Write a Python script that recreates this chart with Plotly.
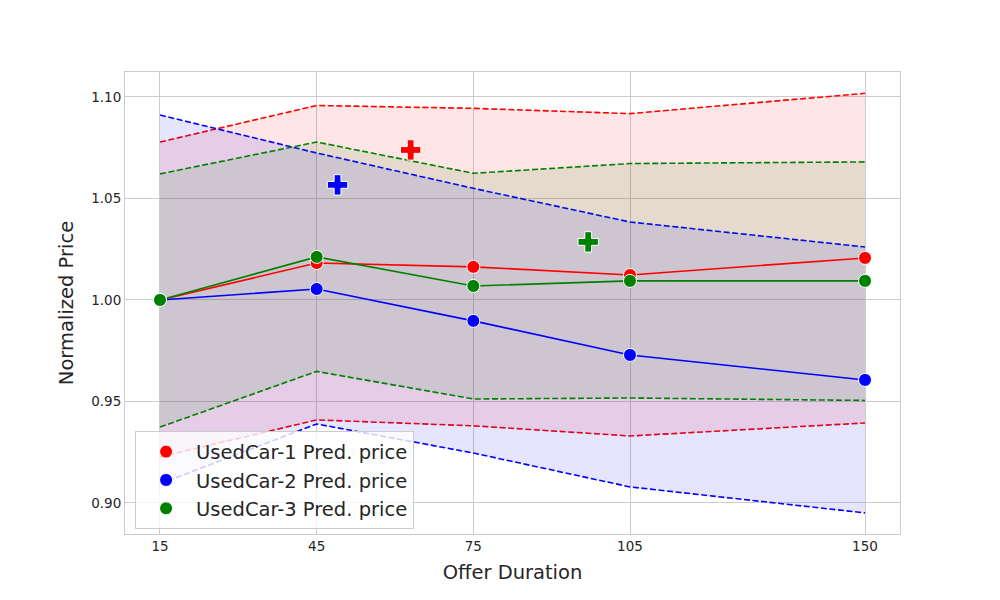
import plotly.graph_objects as go

# offer durations (days) on the x axis
durations = [15, 45, 75, 105, 150]

cars = ["UsedCar-1", "UsedCar-2", "UsedCar-3"]
colors = ["red", "blue", "green"]
fills = ["rgba(255,0,0,0.1)", "rgba(0,0,255,0.1)", "rgba(0,128,0,0.1)"]

# predicted normalized price (mean) per car
mean_1 = [1.000, 1.0182, 1.0163, 1.0123, 1.0207]
mean_2 = [1.000, 1.0054, 0.9897, 0.9729, 0.9606]
mean_3 = [1.000, 1.0212, 1.0069, 1.0094, 1.0094]

# upper / lower bounds of the prediction interval
upper_1 = [1.0778, 1.0958, 1.0944, 1.0918, 1.1018]
lower_1 = [0.9227, 0.9409, 0.9380, 0.9330, 0.9394]
upper_2 = [1.0911, 1.0724, 1.0550, 1.0384, 1.0261]
lower_2 = [0.9094, 0.9389, 0.9246, 0.9079, 0.8951]
upper_3 = [1.0621, 1.0778, 1.0624, 1.0672, 1.0680]
lower_3 = [0.9374, 0.9648, 0.9512, 0.9517, 0.9505]

# actual (observed) offers, shown as crosses
actual_x = [63, 49, 97]
actual_y = [1.0739, 1.0567, 1.0286]

means = [mean_1, mean_2, mean_3]
uppers = [upper_1, upper_2, upper_3]
lowers = [lower_1, lower_2, lower_3]

fig = go.Figure()

for i in range(3):
    fig.add_trace(go.Scatter(
        x=durations, y=uppers[i], mode="lines",
        line=dict(color=colors[i], width=1.6, dash="6px,2.6px"),
        showlegend=False, hoverinfo="skip"
    ))
    fig.add_trace(go.Scatter(
        x=durations, y=lowers[i], mode="lines",
        line=dict(color=colors[i], width=1.6, dash="6px,2.6px"),
        fill="tonexty", fillcolor=fills[i],
        showlegend=False, hoverinfo="skip"
    ))

for i in range(3):
    fig.add_trace(go.Scatter(
        x=durations, y=means[i], mode="lines",
        line=dict(color=colors[i], width=1.6),
        showlegend=False
    ))

for i in range(3):
    fig.add_trace(go.Scatter(
        x=durations, y=means[i], mode="markers",
        marker=dict(color=colors[i], size=13, line=dict(color="white", width=1)),
        name=cars[i] + " Pred. price"
    ))

for i in range(3):
    fig.add_trace(go.Scatter(
        x=[actual_x[i]], y=[actual_y[i]], mode="markers",
        marker=dict(symbol="cross", color=colors[i], size=17,
                    line=dict(color="white", width=1)),
        showlegend=False
    ))

fig.update_layout(
    width=1000, height=600,
    paper_bgcolor="white", plot_bgcolor="white",
    margin=dict(l=117, r=108, t=64, b=74),
    font=dict(family="DejaVu Sans", color="#262626"),
    legend=dict(
        x=0.013, y=0.222, xanchor="left", yanchor="top",
        bgcolor="rgba(255,255,255,0.8)", bordercolor="#cccccc", borderwidth=1,
        font=dict(size=19.5, color="#262626"),
        traceorder="normal", itemwidth=50
    ),
)
fig.update_xaxes(
    range=[8.3, 156.7], tickvals=durations, ticktext=[str(d) for d in durations],
    showgrid=True, gridcolor="#cccccc", gridwidth=1, zeroline=False,
    showline=True, linecolor="#cccccc", mirror=True,
    tickfont=dict(size=13.5), ticks="",
    title=dict(text="Offer Duration", font=dict(size=19.5), standoff=12)
)
fig.update_yaxes(
    range=[0.8847, 1.1123], tickvals=[0.90, 0.95, 1.00, 1.05, 1.10], tickformat=".2f",
    showgrid=True, gridcolor="#cccccc", gridwidth=1, zeroline=False,
    showline=True, linecolor="#cccccc", mirror=True,
    tickfont=dict(size=13.5), ticks="",
    title=dict(text="Normalized Price", font=dict(size=19.5), standoff=12)
)

fig.write_html("out.html")
